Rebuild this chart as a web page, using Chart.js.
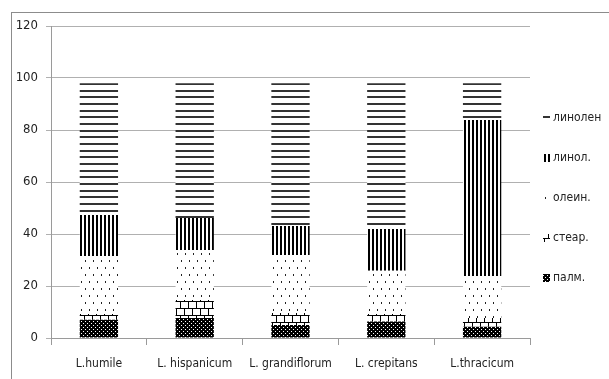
<!DOCTYPE html>
<html>
<head>
<meta charset="utf-8">
<script src="https://cdn.jsdelivr.net/npm/chart.js@4.4.1/dist/chart.umd.min.js"></script>
<style>
  html, body { margin: 0; padding: 0; background: #fff; overflow: hidden; }
  #wrap { position: relative; width: 609px; height: 379px; overflow: hidden; }
  #frame { position: absolute; left: 11px; top: 12px; width: 800px; height: 600px; border: 1px solid #8c8c8c; box-sizing: border-box; }
  #c { position: absolute; left: 0; top: 0; }
</style>
</head>
<body>
<div id="wrap">
  <div id="frame"></div>
  <canvas id="c" width="609" height="379"></canvas>
</div>
<script>
// ---- data ----
const categories = ['L.humile', 'L. hispanicum', 'L. grandiflorum', 'L. crepitans', 'L.thracicum'];
const seriesNames = ['палм.', 'стеар.', 'олеин.', 'линол.', 'линолен'];
const palm    = [7.0, 7.7, 5.0, 6.3, 4.3];
const stear   = [2.2, 6.9, 4.6, 2.9, 3.4];
const olein   = [22.3, 19.2, 22.3, 16.7, 16.1];
const linol   = [15.8, 12.4, 11.2, 16.0, 60.0];
const linolen = [50.7, 51.8, 54.9, 56.1, 14.2];
const yTicks  = [0, 20, 40, 60, 80, 100, 120];

// ---- patterns ----
function makeTile(w, h, draw) {
  const t = document.createElement('canvas');
  t.width = w; t.height = h;
  const g = t.getContext('2d');
  draw(g);
  return t;
}
const ctx0 = document.getElementById('c').getContext('2d');
const tiles = {
  palm: makeTile(4, 4, g => {
    g.fillStyle = '#000'; g.fillRect(0, 0, 4, 4);
    g.fillStyle = '#fff'; g.fillRect(1, 1, 1, 1); g.fillRect(3, 3, 1, 1);
  }),
  stear: makeTile(8, 14, g => {
    g.fillStyle = '#fff'; g.fillRect(0, 0, 8, 14);
    g.fillStyle = '#000';
    g.fillRect(0, 0, 8, 1); g.fillRect(0, 0, 1, 7);
    g.fillRect(0, 7, 8, 1); g.fillRect(4, 7, 1, 7);
  }),
  olein: makeTile(8, 14, g => {
    g.fillStyle = '#fff'; g.fillRect(0, 0, 8, 14);
    g.fillStyle = '#222';
    g.fillRect(1, 1, 1, 2); g.fillRect(5, 8, 1, 2);
  }),
  linol: makeTile(4, 4, g => {
    g.fillStyle = '#fff'; g.fillRect(0, 0, 4, 4);
    g.fillStyle = '#000'; g.fillRect(0, 0, 2, 4);
  }),
  linolen: makeTile(4, 20, g => {
    g.fillStyle = '#fff'; g.fillRect(0, 0, 4, 20);
    g.fillStyle = '#333';
    g.fillRect(0, 3, 4, 2); g.fillRect(0, 10, 4, 2); g.fillRect(0, 16, 4, 2);
  })
};
const pat = k => ctx0.createPattern(tiles[k], 'repeat');
const patterns = [pat('palm'), pat('stear'), pat('olein'), pat('linol'), pat('linolen')];
const seriesData = [palm, stear, olein, linol, linolen];

const FONT = '"Liberation Sans Narrow", "DejaVu Sans Condensed", "Arial Narrow", sans-serif';

// custom side legend (reverse order, like Excel)
const sideLegend = {
  id: 'sideLegend',
  afterDraw(chart) {
    const ctx = chart.ctx;
    const ds = chart.data.datasets;
    ctx.save();
    ctx.font = '12px ' + FONT;
    ctx.textBaseline = 'middle';
    ctx.textAlign = 'left';
    const startY = 118, step = 40;
    for (let i = ds.length - 1, k = 0; i >= 0; i--, k++) {
      const cy = startY + k * step;
      ctx.fillStyle = ds[i].backgroundColor;
      ctx.fillRect(543, cy - 4, 7, 8);
      ctx.fillStyle = '#222';
      ctx.fillText(ds[i].label, 553, cy);
    }
    ctx.restore();
  }
};

new Chart(document.getElementById('c'), {
  type: 'bar',
  data: {
    labels: categories,
    datasets: seriesNames.map((name, i) => ({
      label: name,
      data: seriesData[i],
      backgroundColor: patterns[i],
      borderWidth: 0,
      barPercentage: 0.4,
      categoryPercentage: 1.0
    }))
  },
  options: {
    responsive: false,
    animation: false,
    layout: { padding: { left: 0, right: 79, top: 26, bottom: 0 } },
    plugins: { legend: { display: false }, tooltip: { enabled: false } },
    scales: {
      x: {
        stacked: true,
        grid: { display: true, drawOnChartArea: false, offset: true, tickLength: 7, color: '#9a9a9a', lineWidth: 1 },
        border: { display: true, color: '#9a9a9a', width: 1 },
        ticks: { color: '#222', font: { family: FONT, size: 12 }, padding: 12, maxRotation: 0, autoSkip: false },
        afterFit: s => { s.height = 41; }
      },
      y: {
        stacked: true,
        min: 0, max: 120,
        afterBuildTicks: s => { s.ticks = yTicks.map(v => ({ value: v })); },
        grid: { color: '#b0b0b0', lineWidth: 1, tickLength: 5, drawTicks: true },
        border: { display: true, color: '#9a9a9a', width: 1 },
        ticks: { color: '#222', font: { family: FONT, size: 13 }, padding: 8 },
        afterFit: s => { s.width = 51; }
      }
    }
  },
  plugins: [sideLegend]
});
</script>
</body>
</html>
